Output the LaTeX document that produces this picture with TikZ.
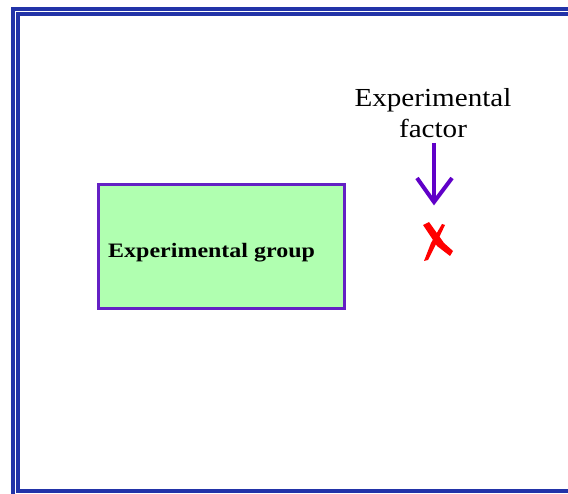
\documentclass[tikz,border=0pt]{standalone}
\usepackage{fontspec}
\setmainfont{Liberation Serif}
\definecolor{frameblue}{HTML}{2233A8}
\definecolor{boxpurple}{HTML}{6420C4}
\definecolor{boxgreen}{HTML}{B0FFB0}
\definecolor{arrowpurple}{HTML}{6000C8}
\definecolor{xred}{HTML}{FF0000}
\tikzset{
  frameline/.style={draw=frameblue, line width=4pt},
  groupbox/.style={draw=boxpurple, fill=boxgreen, line width=3pt},
  factorarrow/.style={draw=arrowpurple, line width=4pt},
}
\begin{document}
\begin{tikzpicture}[x=1pt,y=-1pt]
\useasboundingbox (0,0) rectangle (568,494);
% frame
\draw[frameline] (13,500) -- (13,9) -- (575,9);
\draw[frameline] (575,14.2) -- (18.4,14.2) -- (18.4,491) -- (575,491);
% group box
\node[groupbox, minimum width=246pt, minimum height=124pt, inner sep=0pt] (grp) at (221,247) {};
\node[anchor=base west, inner sep=0pt, font=\fontsize{20.5}{24}\selectfont\bfseries, xscale=1.17] (grptext) at (108,258) {Experimental group};
% factor label
\node[anchor=base, inner sep=0pt, align=center, font=\fontsize{26}{31}\selectfont, xscale=1.12] (factor) at (433,138) {Experimental\\factor};
\coordinate (arrtop) at (434,143);
\coordinate (arrtip) at (434,202);
\draw[factorarrow] (arrtop) -- (arrtip);
\draw[factorarrow, line join=miter] (417,178) -- (arrtip) -- (452,178);
% red X
\fill[xred] (423,225) -- (429,222) -- (444,243) -- (453,251) -- (450,256) -- (437,246) -- cycle;
\fill[xred] (442,224) -- (445,225) -- (436,244) -- (428,260) -- (424,261) -- (431,243) -- cycle;
\end{tikzpicture}
\end{document}
